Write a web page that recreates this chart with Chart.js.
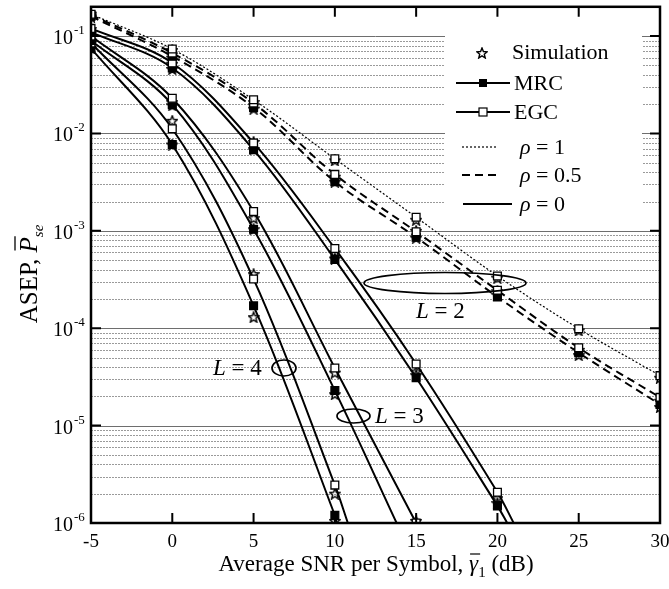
<!DOCTYPE html>
<html lang="en">
<head>
<meta charset="utf-8" />
<title>ASEP vs average SNR</title>
<script src="https://cdn.jsdelivr.net/npm/chart.js@4.4.1/dist/chart.umd.min.js"></script>
<style>
  body { margin: 0; background: #fff; }
  #wrap { width: 669px; height: 589px; }
</style>
</head>
<body>
<div id="wrap"><canvas id="asepChart" width="669" height="589"></canvas></div>
<script>
// marker positions (dB)
var snr = [-5, 0, 5, 10, 15, 20, 25, 30];

// L = 2, rho = 1 (dotted)
var l2r1 = [0.168, 0.0736, 0.0222, 0.0055, 0.00138, 0.000344, 0.000099, 0.0000326];
// L = 2, rho = 0.5 (dashed)
var l2r05Egc = [0.165, 0.067, 0.0205, 0.0038, 0.00098, 0.000245, 0.000063, 0.0000195];
var l2r05Mrc = [0.16, 0.062, 0.0185, 0.0032, 0.00086, 0.00021, 0.000056, 0.0000165];
// rho = 0 (solid), curves run into the bottom of the plot
var l2r0Snr = [-5, 0, 5, 10, 15, 20, 21.0];
var l2r0Egc = [0.12, 0.053, 0.0080, 0.00066, 0.000043, 0.00000207, 0.000001];
var l2r0MrcSnr = [-5, 0, 5, 10, 15, 20, 20.6];
var l2r0Mrc = [0.11, 0.047, 0.0068, 0.00051, 0.000031, 0.0000015, 0.000001];
var l3EgcSnr = [-5, 0, 5, 10, 15];
var l3Egc = [0.1, 0.023, 0.00158, 0.000039, 0.000001];
var l3MrcSnr = [-5, 0, 5, 10, 13.8];
var l3Mrc = [0.09, 0.0198, 0.00104, 0.0000229, 0.000001];
var l4EgcSnr = [-5, 0, 5, 10, 10.8];
var l4Egc = [0.085, 0.0112, 0.00032, 0.00000245, 0.000001];
var l4MrcSnr = [-5, 0, 5, 10, 10.1];
var l4Mrc = [0.075, 0.0077, 0.00017, 0.0000012, 0.000001];

// simulation stars, same snr grid
var simL2r1 = [0.17, 0.072, 0.021, 0.0053, 0.0013, 0.00033, 0.000095, 0.000031];
var simL2r05Egc = [0.163, 0.065, 0.0195, 0.0036, 0.001, 0.00024, 0.00006, 0.000018];
var simL2r05Mrc = [0.158, 0.06, 0.018, 0.0032, 0.00085, 0.00022, 0.000053, 0.0000155];
var simL2r0Egc = [0.118, 0.052, 0.0082, 0.0006, 0.000036, 0.0000018];
var simL2r0Mrc = [0.107, 0.046, 0.0069, 0.00052, 0.000033, 0.0000016];
var simL3Egc = [0.1, 0.021, 0.00135, 0.000035, 0.00000105];
var simL3Mrc = [0.09, 0.0195, 0.00104, 0.000021];
var simL4Egc = [0.085, 0.0135, 0.00036, 0.000002];
var simL4Mrc = [0.075, 0.0077, 0.00013, 0.00000105];

var xTicks = [-5, 0, 5, 10, 15, 20, 25, 30];
var yDecades = [-6, -5, -4, -3, -2, -1];

var serif = '"Liberation Serif", "Times New Roman", serif';

function pts(xs, ys) {
  var out = [];
  for (var i = 0; i < ys.length; i++) {
    if (ys[i] != null) out.push({ x: xs[i], y: ys[i] });
  }
  return out;
}

function makeStar(size) {
  var c = document.createElement('canvas');
  c.width = size; c.height = size;
  var g = c.getContext('2d');
  var cx = size / 2, cy = size / 2 + 0.5;
  g.beginPath();
  for (var i = 0; i < 10; i++) {
    var r = i % 2 ? size * 0.2 : size * 0.46;
    var a = -Math.PI / 2 + i * Math.PI / 5;
    var px = cx + r * Math.cos(a), py = cy + r * Math.sin(a);
    if (i === 0) g.moveTo(px, py); else g.lineTo(px, py);
  }
  g.closePath();
  g.lineWidth = 1.4;
  g.strokeStyle = '#000';
  g.stroke();
  return c;
}
var star = makeStar(12);

function curve(xs, ys, dash, width, filled) {
  return {
    data: pts(xs, ys),
    borderColor: '#000',
    borderWidth: width,
    borderDash: dash,
    tension: 0.35,
    pointStyle: 'rect',
    pointRadius: function (ctx) { return ctx.raw && ctx.raw.x % 5 === 0 ? 5.5 : 0; },
    pointBackgroundColor: filled ? '#000' : '#fff',
    pointBorderColor: '#000',
    pointBorderWidth: 1.3
  };
}

var simPts = [].concat(
  pts(snr, simL2r1), pts(snr, simL2r05Egc), pts(snr, simL2r05Mrc),
  pts(snr, simL2r0Egc), pts(snr, simL2r0Mrc), pts(snr, simL3Egc),
  pts(snr, simL3Mrc), pts(snr, simL4Egc), pts(snr, simL4Mrc)
);

var dotted = [2, 2];
var dashed = [8, 5];

var deco = {
  id: 'deco',
  beforeDatasetsDraw: function (chart) {
    var ctx = chart.ctx, a = chart.chartArea, y = chart.scales.y;
    ctx.save();
    // horizontal grid
    for (var d = -6; d <= -1; d++) {
      for (var k = 1; k <= 9; k++) {
        var v = k * Math.pow(10, d);
        if (v > 0.2) break;
        var py = Math.round(y.getPixelForValue(v)) + 0.5;
        ctx.beginPath();
        if (k === 1) { ctx.setLineDash([]); ctx.strokeStyle = '#6e6e6e'; }
        else { ctx.setLineDash([2, 1]); ctx.strokeStyle = '#9a9a9a'; }
        ctx.lineWidth = 1;
        ctx.moveTo(a.left, py); ctx.lineTo(a.right, py);
        ctx.stroke();
      }
    }
    ctx.setLineDash([]);
    // legend background
    ctx.fillStyle = '#fff';
    ctx.fillRect(445, 26, 197, 196);
    ctx.restore();
  },
  afterDatasetsDraw: function (chart) {
    var ctx = chart.ctx, a = chart.chartArea, x = chart.scales.x, y = chart.scales.y;
    ctx.save();
    ctx.strokeStyle = '#000';
    ctx.fillStyle = '#000';

    // frame
    ctx.lineWidth = 2.5;
    ctx.strokeRect(a.left, a.top, a.right - a.left, a.bottom - a.top);

    // inward ticks
    ctx.lineWidth = 2;
    xTicks.forEach(function (t) {
      if (t === -5 || t === 30) return;
      var px = x.getPixelForValue(t);
      ctx.beginPath();
      ctx.moveTo(px, a.bottom); ctx.lineTo(px, a.bottom - 10);
      ctx.moveTo(px, a.top); ctx.lineTo(px, a.top + 10);
      ctx.stroke();
    });
    yDecades.forEach(function (d) {
      if (d === -6) return;
      var py = y.getPixelForValue(Math.pow(10, d));
      ctx.beginPath();
      ctx.moveTo(a.left, py); ctx.lineTo(a.left + 10, py);
      ctx.moveTo(a.right, py); ctx.lineTo(a.right - 10, py);
      ctx.stroke();
    });

    // tick labels
    ctx.font = '19px ' + serif;
    ctx.textAlign = 'center';
    ctx.textBaseline = 'alphabetic';
    xTicks.forEach(function (t) {
      ctx.fillText(String(t), x.getPixelForValue(t), 547);
    });
    yDecades.forEach(function (d) {
      var py = y.getPixelForValue(Math.pow(10, d));
      ctx.font = '20px ' + serif;
      ctx.textAlign = 'right';
      ctx.fillText('10', 73, py + 8);
      ctx.font = '13px ' + serif;
      ctx.textAlign = 'left';
      ctx.fillText(String(d), 74, py - 2);
    });

    // x title
    var p1 = 'Average SNR per Symbol, ', p3 = ' (dB)';
    ctx.font = '23px ' + serif;
    var w1 = ctx.measureText(p1).width, w3 = ctx.measureText(p3).width;
    ctx.font = 'italic 23px ' + serif;
    var wg = ctx.measureText('\u03b3').width;
    ctx.font = '15px ' + serif;
    var ws = ctx.measureText('1').width;
    var sx = 376 - (w1 + wg + ws + w3) / 2, base = 571;
    ctx.textAlign = 'left';
    ctx.font = '23px ' + serif;
    ctx.fillText(p1, sx, base);
    ctx.font = 'italic 23px ' + serif;
    ctx.fillText('\u03b3', sx + w1, base);
    ctx.lineWidth = 1.2;
    ctx.beginPath();
    ctx.moveTo(sx + w1 + 1, base - 17); ctx.lineTo(sx + w1 + wg + 2, base - 17);
    ctx.stroke();
    ctx.font = '15px ' + serif;
    ctx.fillText('1', sx + w1 + wg, base + 6);
    ctx.font = '23px ' + serif;
    ctx.fillText(p3, sx + w1 + wg + ws, base);

    // y title
    ctx.save();
    ctx.translate(37, 274);
    ctx.rotate(-Math.PI / 2);
    ctx.font = '25px ' + serif;
    var q1 = 'ASEP, ';
    var wq1 = ctx.measureText(q1).width;
    ctx.font = 'italic 25px ' + serif;
    var wp = ctx.measureText('P').width;
    ctx.font = 'italic 15px ' + serif;
    var wse = ctx.measureText('se').width;
    var tx = -(wq1 + wp + wse) / 2;
    ctx.font = '25px ' + serif;
    ctx.fillText(q1, tx, 0);
    ctx.font = 'italic 25px ' + serif;
    ctx.fillText('P', tx + wq1, 0);
    ctx.lineWidth = 1.3;
    ctx.beginPath();
    ctx.moveTo(tx + wq1 + 2, -22); ctx.lineTo(tx + wq1 + wp + 1, -22);
    ctx.stroke();
    ctx.font = 'italic 15px ' + serif;
    ctx.fillText('se', tx + wq1 + wp, 6);
    ctx.restore();

    // legend
    ctx.font = '22px ' + serif;
    ctx.textBaseline = 'middle';
    ctx.drawImage(star, 482 - 6, 53 - 6);
    ctx.fillText('Simulation', 512, 53);
    function legLine(x0, x1, yy, dash, w) {
      ctx.setLineDash(dash); ctx.lineWidth = w;
      ctx.beginPath(); ctx.moveTo(x0, yy); ctx.lineTo(x1, yy); ctx.stroke();
      ctx.setLineDash([]);
    }
    legLine(456, 510, 83, [], 2);
    ctx.fillRect(479, 79, 8, 8);
    ctx.fillText('MRC', 514, 84);
    legLine(456, 510, 112, [], 2);
    ctx.fillStyle = '#fff'; ctx.fillRect(479, 108, 8, 8); ctx.fillStyle = '#000';
    ctx.lineWidth = 1.2; ctx.strokeRect(479, 108, 8, 8);
    ctx.fillText('EGC', 514, 113);
    legLine(462, 497, 147, dotted, 1.2);
    legLine(462, 497, 175, dashed, 2);
    legLine(463, 512, 204, [], 2);
    [['1', 148], ['0.5', 176], ['0', 205]].forEach(function (r) {
      ctx.font = 'italic 22px ' + serif;
      ctx.fillText('\u03c1', 520, r[1]);
      var wr = ctx.measureText('\u03c1').width;
      ctx.font = '22px ' + serif;
      ctx.fillText(' = ' + r[0], 520 + wr, r[1]);
    });

    // group labels with ellipses
    function ell(cx, cy, rx, ry) {
      ctx.lineWidth = 1.7;
      ctx.beginPath(); ctx.ellipse(cx, cy, rx, ry, 0, 0, Math.PI * 2); ctx.stroke();
    }
    function lab(txt, lx, ly) {
      ctx.font = 'italic 23px ' + serif;
      ctx.fillText('L', lx, ly);
      var wl = ctx.measureText('L').width;
      ctx.font = '23px ' + serif;
      ctx.fillText(' = ' + txt, lx + wl, ly);
    }
    ell(445, 283, 81, 10.5);
    lab('2', 416, 312);
    ell(353.5, 416, 16.5, 7);
    lab('3', 375, 417);
    ell(284, 368, 12, 8);
    lab('4', 213, 369);

    ctx.restore();
  }
};

new Chart(document.getElementById('asepChart').getContext('2d'), {
  type: 'line',
  data: {
    datasets: [
      curve(snr, l2r1, dotted, 1.2, false),
      curve(snr, l2r05Egc, dashed, 2, false),
      curve(snr, l2r05Mrc, dashed, 2, true),
      curve(l2r0Snr, l2r0Egc, [], 2, false),
      curve(l2r0MrcSnr, l2r0Mrc, [], 2, true),
      curve(l3EgcSnr, l3Egc, [], 2, false),
      curve(l3MrcSnr, l3Mrc, [], 2, true),
      curve(l4EgcSnr, l4Egc, [], 2, false),
      curve(l4MrcSnr, l4Mrc, [], 2, true),
      {
        data: simPts,
        showLine: false,
        pointStyle: star,
        pointRadius: 5
      }
    ]
  },
  options: {
    responsive: false,
    animation: false,
    events: [],
    layout: { padding: { left: 91, right: 9, top: 4, bottom: 66 } },
    plugins: { legend: { display: false }, tooltip: { enabled: false } },
    scales: {
      x: { type: 'linear', min: -5, max: 30, display: false },
      y: { type: 'logarithmic', min: 0.000001, max: 0.2, display: false }
    }
  },
  plugins: [deco]
});
</script>
</body>
</html>
